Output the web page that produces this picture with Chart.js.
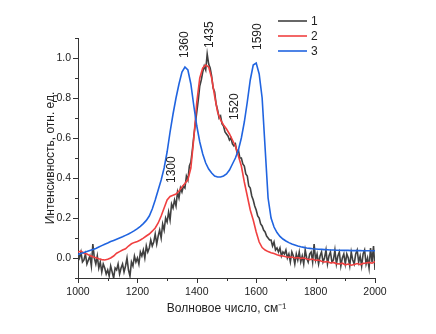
<!DOCTYPE html>
<html>
<head>
<meta charset="utf-8">
<script src="https://cdn.jsdelivr.net/npm/chart.js@4.4.0/dist/chart.umd.min.js"></script>
<style>
  html, body { margin: 0; padding: 0; background: #fff; }
  #wrap { width: 436px; height: 334px; }
</style>
</head>
<body>
<div id="wrap"><canvas id="ramanChart" width="436" height="334"></canvas></div>
<script>
// wavenumbers, cm-1
const waveFine = [
  1000, 1005, 1010, 1015, 1020, 1025, 1030, 1035, 1040, 1045,
  1050, 1055, 1060, 1065, 1070, 1075, 1080, 1085, 1090, 1095,
  1100, 1105, 1110, 1115, 1120, 1125, 1130, 1135, 1140, 1145,
  1150, 1155, 1160, 1165, 1170, 1175, 1180, 1185, 1190, 1195,
  1200, 1205, 1210, 1215, 1220, 1225, 1230, 1235, 1240, 1245,
  1250, 1255, 1260, 1265, 1270, 1275, 1280, 1285, 1290, 1295,
  1300, 1305, 1310, 1315, 1320, 1325, 1330, 1335, 1340, 1345,
  1350, 1355, 1360, 1365, 1370, 1375, 1380, 1385, 1390, 1395,
  1400, 1405, 1410, 1415, 1420, 1425, 1430, 1435, 1440, 1445,
  1450, 1455, 1460, 1465, 1470, 1475, 1480, 1485, 1490, 1495,
  1500, 1505, 1510, 1515, 1520, 1525, 1530, 1535, 1540, 1545,
  1550, 1555, 1560, 1565, 1570, 1575, 1580, 1585, 1590, 1595,
  1600, 1605, 1610, 1615, 1620, 1625, 1630, 1635, 1640, 1645,
  1650, 1655, 1660, 1665, 1670, 1675, 1680, 1685, 1690, 1695,
  1700, 1705, 1710, 1715, 1720, 1725, 1730, 1735, 1740, 1745,
  1750, 1755, 1760, 1765, 1770, 1775, 1780, 1785, 1790, 1795,
  1800, 1805, 1810, 1815, 1820, 1825, 1830, 1835, 1840, 1845,
  1850, 1855, 1860, 1865, 1870, 1875, 1880, 1885, 1890, 1895,
  1900, 1905, 1910, 1915, 1920, 1925, 1930, 1935, 1940, 1945,
  1950, 1955, 1960, 1965, 1970, 1975, 1980, 1985, 1990, 1995,
  2000
];

// spectrum 1 (noisy, dark grey)
const spectrum1 = [
  0.02, 0.00, 0.03, -0.02, -0.01, 0.02, -0.03, -0.01, 0.01, -0.04,
  0.07, 0.00, -0.03, 0.01, -0.05, -0.02, -0.07, -0.03, -0.05, -0.08,
  -0.06, -0.09, -0.04, -0.07, -0.10, -0.05, -0.06, -0.03, -0.08, -0.05,
  -0.03, -0.07, -0.04, 0.00, -0.06, -0.09, -0.02, -0.04, 0.01, -0.02,
  0.00, -0.03, 0.03, 0.01, 0.04, 0.00, 0.06, 0.03, 0.05, 0.09,
  0.06, 0.08, 0.12, 0.07, 0.11, 0.14, 0.10, 0.17, 0.14, 0.20,
  0.18, 0.23, 0.19, 0.27, 0.25, 0.29, 0.26, 0.33, 0.30, 0.35,
  0.33, 0.36, 0.35, 0.41, 0.39, 0.46, 0.48, 0.54, 0.61, 0.67,
  0.73, 0.79, 0.86, 0.89, 0.93, 0.96, 0.94, 1.02, 0.97, 0.95,
  0.91, 0.85, 0.83, 0.77, 0.74, 0.70, 0.71, 0.67, 0.66, 0.63,
  0.62, 0.61, 0.59, 0.60, 0.57, 0.56, 0.57, 0.53, 0.54, 0.50,
  0.50, 0.47, 0.46, 0.42, 0.41, 0.36, 0.35, 0.31, 0.29, 0.26,
  0.24, 0.21, 0.20, 0.17, 0.16, 0.14, 0.13, 0.11, 0.10, 0.09,
  0.09, 0.06, 0.08, 0.04, 0.05, 0.03, 0.05, 0.01, 0.03, 0.02,
  0.04, 0.00, 0.02, -0.02, 0.03, 0.01, -0.03, 0.02, -0.01, 0.03,
  -0.02, 0.01, -0.03, 0.04, 0.00, -0.02, 0.02, 0.03, -0.02, 0.07,
  -0.01, 0.02, -0.03, 0.01, 0.03, -0.02, 0.00, 0.04, -0.03, 0.01,
  0.03, -0.02, -0.01, 0.04, -0.03, 0.01, 0.03, -0.04, 0.00, 0.02,
  -0.03, 0.02, 0.00, -0.04, 0.03, -0.01, -0.03, 0.02, 0.04, -0.02,
  0.01, -0.04, 0.02, 0.04, -0.03, 0.00, -0.05, 0.05, -0.02, 0.06,
  -0.06
];

const waveCoarse = [
  1000, 1010, 1020, 1030, 1040, 1050, 1060, 1070, 1080, 1090,
  1100, 1110, 1120, 1130, 1140, 1150, 1160, 1170, 1180, 1190,
  1200, 1210, 1220, 1230, 1240, 1250, 1260, 1270, 1280, 1290,
  1300, 1310, 1320, 1330, 1340, 1350, 1360, 1370, 1380, 1390,
  1400, 1410, 1420, 1430, 1440, 1450, 1460, 1470, 1480, 1490,
  1500, 1510, 1520, 1530, 1540, 1550, 1560, 1570, 1580, 1590,
  1600, 1610, 1620, 1630, 1640, 1650, 1660, 1670, 1680, 1690,
  1700, 1710, 1720, 1730, 1740, 1750, 1760, 1770, 1780, 1790,
  1800, 1810, 1820, 1830, 1840, 1850, 1860, 1870, 1880, 1890,
  1900, 1910, 1920, 1930, 1940, 1950, 1960, 1970, 1980, 1990,
  2000
];

// spectrum 2 (red)
const spectrum2 = [
  0.030, 0.034, 0.024, 0.020, 0.012, 0.006, 0.001, -0.004, -0.008, -0.010,
  -0.006, 0.000, 0.010, 0.024, 0.032, 0.040, 0.046, 0.060, 0.071, 0.078,
  0.083, 0.090, 0.099, 0.110, 0.120, 0.134, 0.150, 0.175, 0.210, 0.250,
  0.290, 0.308, 0.314, 0.320, 0.335, 0.355, 0.372, 0.392, 0.450, 0.600,
  0.780, 0.900, 0.950, 0.965, 0.955, 0.900, 0.810, 0.730, 0.690, 0.665,
  0.645, 0.620, 0.590, 0.560, 0.510, 0.460, 0.380, 0.310, 0.240, 0.190,
  0.130, 0.080, 0.052, 0.040, 0.032, 0.026, 0.022, 0.016, 0.012, 0.010,
  0.006, 0.004, 0.005, 0.000, 0.002, -0.002, 0.000, -0.005, -0.008, -0.005,
  -0.012, -0.010, -0.016, -0.020, -0.018, -0.025, -0.022, -0.028, -0.030, -0.026,
  -0.034, -0.030, -0.036, -0.032, -0.028, -0.033, -0.027, -0.025, -0.022, -0.026,
  -0.018
];

// spectrum 3 (blue)
const spectrum3 = [
  0.018, 0.022, 0.027, 0.032, 0.037, 0.042, 0.048, 0.055, 0.062, 0.069,
  0.075, 0.082, 0.088, 0.094, 0.100, 0.106, 0.113, 0.120, 0.128, 0.137,
  0.147, 0.158, 0.172, 0.188, 0.210, 0.245, 0.290, 0.340, 0.390, 0.450,
  0.530, 0.630, 0.720, 0.800, 0.870, 0.930, 0.955, 0.940, 0.870, 0.760,
  0.660, 0.580, 0.520, 0.475, 0.445, 0.425, 0.410, 0.405, 0.405, 0.410,
  0.420, 0.440, 0.470, 0.500, 0.540, 0.600, 0.680, 0.780, 0.890, 0.965,
  0.975, 0.920, 0.800, 0.550, 0.300, 0.200, 0.155, 0.127, 0.108, 0.095,
  0.085, 0.077, 0.070, 0.065, 0.060, 0.056, 0.053, 0.050, 0.048, 0.046,
  0.045, 0.044, 0.043, 0.042, 0.041, 0.040, 0.040, 0.039, 0.039, 0.038,
  0.038, 0.038, 0.037, 0.037, 0.037, 0.037, 0.036, 0.036, 0.036, 0.036,
  0.036
];

const seriesNames = ['1', '2', '3'];

// peak labels and where they sit (wavenumber, intensity at bottom of the text)
const peakLabels = ['1300', '1360', '1435', '1520', '1590'];
const peakX = [1315, 1360, 1444, 1529, 1604];
const peakY = [0.375, 1.0, 1.05, 0.69, 1.04];

function toPoints(xs, ys) {
  return xs.map((x, i) => ({ x: x, y: ys[i] }));
}

const textColor = '#222';
const axisColor = '#333';

// major/minor tick marks, drawn outward
const tickMarks = {
  id: 'tickMarks',
  afterDraw(chart) {
    const ctx = chart.ctx;
    const xs = chart.scales.x, ys = chart.scales.y;
    const area = chart.chartArea;
    ctx.save();
    ctx.strokeStyle = axisColor;
    ctx.lineWidth = 1;
    ctx.beginPath();
    ys.ticks.forEach(t => {
      const py = Math.round(ys.getPixelForValue(t.value)) + 0.5;
      const major = Math.abs(Math.round(t.value * 10)) % 2 === 0;
      ctx.moveTo(area.left, py);
      ctx.lineTo(area.left - (major ? 5 : 3), py);
    });
    xs.ticks.forEach(t => {
      const px = Math.round(xs.getPixelForValue(t.value)) + 0.5;
      const major = Math.round(t.value / 100) % 2 === 0;
      ctx.moveTo(px, area.bottom);
      ctx.lineTo(px, area.bottom + (major ? 5 : 3));
    });
    ctx.stroke();
    ctx.restore();
  }
};

// rotated peak annotations
const peakText = {
  id: 'peakText',
  afterDatasetsDraw(chart) {
    const ctx = chart.ctx;
    const xs = chart.scales.x, ys = chart.scales.y;
    ctx.save();
    ctx.fillStyle = textColor;
    ctx.font = '12px "Liberation Sans", Arial, sans-serif';
    ctx.textAlign = 'left';
    ctx.textBaseline = 'middle';
    peakLabels.forEach((lab, i) => {
      ctx.save();
      ctx.translate(xs.getPixelForValue(peakX[i]), ys.getPixelForValue(peakY[i]));
      ctx.rotate(-Math.PI / 2);
      ctx.fillText(lab, 0, 0);
      ctx.restore();
    });
    ctx.restore();
  }
};

// small legend top right
const lineLegend = {
  id: 'lineLegend',
  afterDraw(chart) {
    const ctx = chart.ctx;
    const area = chart.chartArea;
    const x0 = area.right - 97;
    ctx.save();
    ctx.font = '12px "Liberation Sans", Arial, sans-serif';
    ctx.textBaseline = 'middle';
    ctx.fillStyle = textColor;
    [...chart.data.datasets].sort((a, b) => a.legendIndex - b.legendIndex).forEach((ds, i) => {
      const y = 21 + i * 15;
      ctx.strokeStyle = ds.borderColor;
      ctx.lineWidth = 1.6;
      ctx.beginPath();
      ctx.moveTo(x0, y);
      ctx.lineTo(x0 + 29, y);
      ctx.stroke();
      ctx.fillText(ds.label, x0 + 33, y + 1);
    });
    ctx.restore();
  }
};

const ctx = document.getElementById('ramanChart').getContext('2d');

new Chart(ctx, {
  type: 'line',
  data: {
    datasets: [
      {
        label: seriesNames[2],
        legendIndex: 2,
        data: toPoints(waveCoarse, spectrum3),
        borderColor: '#2064e0',
        borderWidth: 1.6,
        order: 1
      },
      {
        label: seriesNames[1],
        legendIndex: 1,
        data: toPoints(waveCoarse, spectrum2),
        borderColor: '#f04040',
        borderWidth: 1.6,
        order: 2
      },
      {
        label: seriesNames[0],
        legendIndex: 0,
        data: toPoints(waveFine, spectrum1),
        borderColor: '#404040',
        borderWidth: 1.6,
        order: 3
      }
    ]
  },
  options: {
    responsive: false,
    animation: false,
    devicePixelRatio: 1,
    elements: {
      point: { radius: 0 },
      line: { tension: 0, fill: false }
    },
    layout: {
      padding: { left: 43, right: 61, top: 38, bottom: 0 }
    },
    plugins: {
      legend: { display: false },
      tooltip: { enabled: false }
    },
    scales: {
      x: {
        type: 'linear',
        min: 1000,
        max: 2000,
        grid: { display: false, drawTicks: false },
        border: { display: true, color: axisColor, width: 1 },
        ticks: {
          stepSize: 100,
          autoSkip: false,
          maxRotation: 0,
          padding: 8,
          color: textColor,
          font: { family: '"Liberation Sans", Arial, sans-serif', size: 10.5 },
          callback: v => (Math.round(v / 100) % 2 === 0 ? String(v) : '')
        },
        title: {
          display: true,
          text: 'Волновое число, см⁻¹',
          color: textColor,
          font: { family: '"Liberation Sans", Arial, sans-serif', size: 12 },
          padding: { top: 3, bottom: 18 }
        },
        afterFit: s => { s.height = 56; }
      },
      y: {
        min: -0.1,
        max: 1.1,
        grid: { display: false, drawTicks: false },
        border: { display: true, color: axisColor, width: 1 },
        ticks: {
          stepSize: 0.1,
          autoSkip: false,
          padding: 7,
          color: textColor,
          font: { family: '"Liberation Sans", Arial, sans-serif', size: 10.5 },
          callback: v => {
            const k = Math.round(v * 10);
            return (k % 2 === 0 && k >= 0 && k <= 10) ? (k / 10).toFixed(1) : '';
          }
        },
        title: {
          display: true,
          text: 'Интенсивность, отн. ед.',
          color: textColor,
          font: { family: '"Liberation Sans", Arial, sans-serif', size: 12 },
          padding: 0
        },
        afterFit: s => { s.width = 35; }
      }
    }
  },
  plugins: [tickMarks, peakText, lineLegend]
});
</script>
</body>
</html>
